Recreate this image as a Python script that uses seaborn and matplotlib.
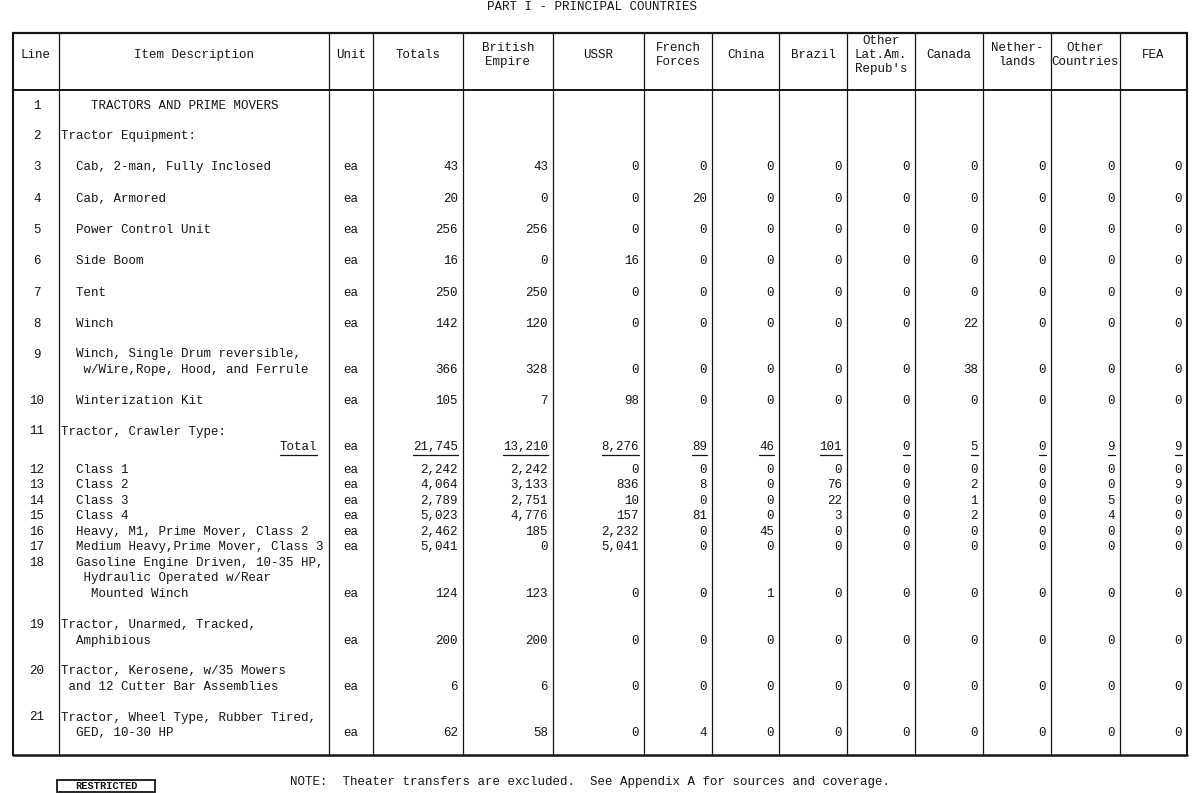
"""Lend-lease style table: PART I - PRINCIPAL COUNTRIES (tractors and prime movers)."""

import matplotlib

matplotlib.use("Agg")

import matplotlib.pyplot as plt
import pandas as pd
import seaborn as sns

# ---- data -----------------------------------------------------------------
title = "PART I - PRINCIPAL COUNTRIES"
note = "NOTE:  Theater transfers are excluded.  See Appendix A for sources and coverage."
stamp = "RESTRICTED"

headers = [
    "Line", "Item Description", "Unit", "Totals", "British\nEmpire", "USSR",
    "French\nForces", "China", "Brazil", "Other\nLat.Am.\nRepub's", "Canada",
    "Nether-\nlands", "Other\nCountries", "FEA",
]

line_numbers = [str(i) for i in range(1, 22)]

descriptions = [
    ["    TRACTORS AND PRIME MOVERS"],
    ["Tractor Equipment:"],
    ["  Cab, 2-man, Fully Inclosed"],
    ["  Cab, Armored"],
    ["  Power Control Unit"],
    ["  Side Boom"],
    ["  Tent"],
    ["  Winch"],
    ["  Winch, Single Drum reversible,", "   w/Wire,Rope, Hood, and Ferrule"],
    ["  Winterization Kit"],
    ["Tractor, Crawler Type:", ""],
    ["  Class 1"],
    ["  Class 2"],
    ["  Class 3"],
    ["  Class 4"],
    ["  Heavy, M1, Prime Mover, Class 2"],
    ["  Medium Heavy,Prime Mover, Class 3"],
    ["  Gasoline Engine Driven, 10-35 HP,", "   Hydraulic Operated w/Rear", "    Mounted Winch"],
    ["Tractor, Unarmed, Tracked,", "  Amphibious"],
    ["Tractor, Kerosene, w/35 Mowers", " and 12 Cutter Bar Assemblies"],
    ["Tractor, Wheel Type, Rubber Tired,", "  GED, 10-30 HP"],
]

units = [""] * 2 + ["ea"] * 19

N = None
totals = [N, N, 43, 20, 256, 16, 250, 142, 366, 105, 21745,
          2242, 4064, 2789, 5023, 2462, 5041, 124, 200, 6, 62]
british_empire = [N, N, 43, 0, 256, 0, 250, 120, 328, 7, 13210,
                  2242, 3133, 2751, 4776, 185, 0, 123, 200, 6, 58]
ussr = [N, N, 0, 0, 0, 16, 0, 0, 0, 98, 8276,
        0, 836, 10, 157, 2232, 5041, 0, 0, 0, 0]
french_forces = [N, N, 0, 20, 0, 0, 0, 0, 0, 0, 89,
                 0, 8, 0, 81, 0, 0, 0, 0, 0, 4]
china = [N, N, 0, 0, 0, 0, 0, 0, 0, 0, 46,
         0, 0, 0, 0, 45, 0, 1, 0, 0, 0]
brazil = [N, N, 0, 0, 0, 0, 0, 0, 0, 0, 101,
          0, 76, 22, 3, 0, 0, 0, 0, 0, 0]
other_lat_am = [N, N, 0, 0, 0, 0, 0, 0, 0, 0, 0,
                0, 0, 0, 0, 0, 0, 0, 0, 0, 0]
canada = [N, N, 0, 0, 0, 0, 0, 22, 38, 0, 5,
          0, 2, 1, 2, 0, 0, 0, 0, 0, 0]
netherlands = [N, N, 0, 0, 0, 0, 0, 0, 0, 0, 0,
               0, 0, 0, 0, 0, 0, 0, 0, 0, 0]
other_countries = [N, N, 0, 0, 0, 0, 0, 0, 0, 0, 9,
                   0, 0, 5, 4, 0, 0, 0, 0, 0, 0]
fea = [N, N, 0, 0, 0, 0, 0, 0, 0, 0, 9,
       0, 9, 0, 0, 0, 0, 0, 0, 0, 0]

total_row_line = "11"

value_columns = {
    "Totals": totals,
    "British Empire": british_empire,
    "USSR": ussr,
    "French Forces": french_forces,
    "China": china,
    "Brazil": brazil,
    "Other Lat.Am.": other_lat_am,
    "Canada": canada,
    "Netherlands": netherlands,
    "Other Countries": other_countries,
    "FEA": fea,
}

table = pd.DataFrame({"line": line_numbers, "desc": descriptions, "unit": units, **value_columns})

# ---- layout (pixels) ------------------------------------------------------
col_edges = [13, 59, 329, 373, 463, 553, 644, 712, 779, 847, 915, 983, 1051, 1120, 1187]
top, header_bottom, bottom = 33, 90, 755
value_y = [106, 136, 167, 199, 230, 261, 293, 324, 370, 401, 447,
           470, 485, 501, 516, 532, 547, 594, 641, 687, 733]
line_gap = 15.5
char_w = 7.5
ink = "#151515"

sns.set_theme(style="white")
plt.rcParams["font.family"] = ["Liberation Mono", "DejaVu Sans Mono"]

fig = plt.figure(figsize=(12, 7.93), dpi=100)
ax = fig.add_axes([0, 0, 1, 1])
ax.set_xlim(0, 1200)
ax.set_ylim(793, 0)
ax.axis("off")

fs = 9

# title and note
ax.text(592, 7, title, ha="center", va="center", fontsize=fs, color=ink)
ax.text(290, 782, note, ha="left", va="center", fontsize=fs, color=ink)

# restricted stamp near the page edge
ax.add_patch(plt.Rectangle((57, 780), 98, 12, fill=False, lw=1.3, ec=ink))
ax.text(106, 786, stamp, ha="center", va="center", fontsize=7.5,
        fontweight="bold", color=ink)

# grid lines
ax.plot([col_edges[0], col_edges[-1]], [top, top], color=ink, lw=1.6)
ax.plot([col_edges[0], col_edges[-1]], [bottom, bottom], color=ink, lw=1.8)
ax.plot([col_edges[0], col_edges[-1]], [header_bottom, header_bottom], color=ink, lw=1.4)
for i, x in enumerate(col_edges):
    lw = 1.5 if i in (0, len(col_edges) - 1) else 0.9
    ax.plot([x, x], [top, bottom], color=ink, lw=lw)

# header
header_mid = 55
for i, h in enumerate(headers):
    cx = (col_edges[i] + col_edges[i + 1]) / 2
    ax.text(cx, header_mid, h, ha="center", va="center", fontsize=fs,
            color=ink, linespacing=1.2)

# body
num_cols = list(value_columns.keys())
for r, row in table.iterrows():
    y = value_y[r]
    n_lines = len(row["desc"])
    first_y = y - line_gap * (n_lines - 1)

    ax.text(37, first_y, row["line"], ha="center", va="center", fontsize=fs, color=ink)
    for k, txt in enumerate(row["desc"]):
        ax.text(col_edges[1] + 2, first_y + k * line_gap, txt, ha="left",
                va="center", fontsize=fs, color=ink)

    is_total = row["line"] == total_row_line
    if is_total:
        ax.text(col_edges[2] - 12, y, "Total", ha="right", va="center",
                fontsize=fs, color=ink)
        ax.plot([col_edges[2] - 12 - 5 * char_w, col_edges[2] - 12], [y + 8, y + 8],
                color=ink, lw=0.9)

    if row["unit"]:
        ax.text((col_edges[2] + col_edges[3]) / 2, y, row["unit"], ha="center",
                va="center", fontsize=fs, color=ink)

    for j, c in enumerate(num_cols):
        v = row[c]
        if pd.isna(v):
            continue
        label = f"{int(v):,}"
        xr = col_edges[3 + j + 1] - 5
        ax.text(xr, y, label, ha="right", va="center", fontsize=fs, color=ink)
        if is_total:
            ax.plot([xr - len(label) * char_w, xr], [y + 8, y + 8], color=ink, lw=0.9)

fig.savefig("out.png", dpi=100, facecolor="white")
plt.close(fig)
